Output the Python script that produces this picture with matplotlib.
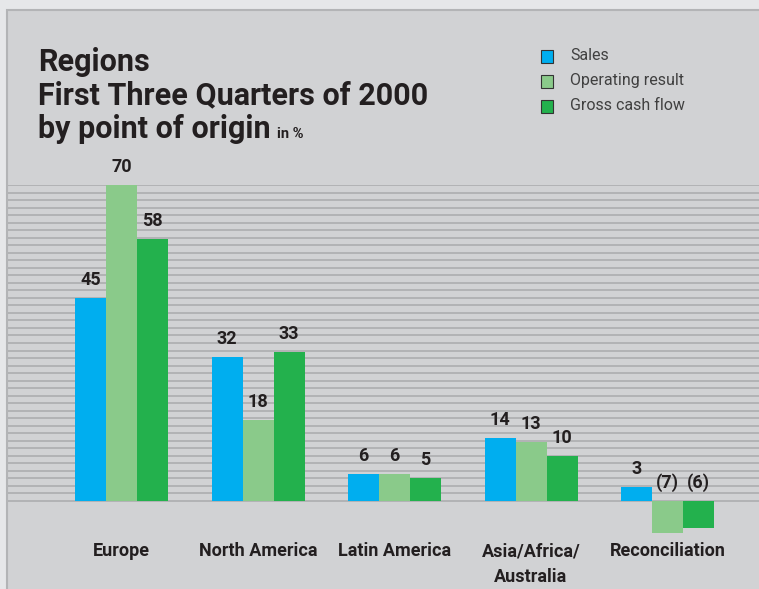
import numpy as np
import matplotlib
matplotlib.use("Agg")
import matplotlib.pyplot as plt
from matplotlib.patches import Rectangle
from matplotlib import font_manager

categories = ["Europe", "North America", "Latin America", "Asia/Africa/\nAustralia", "Reconciliation"]
sales = [45, 32, 6, 14, 3]
operating = [70, 18, 6, 13, -7]
gross_cf = [58, 33, 5, 10, -6]
series_names = ["Sales", "Operating result", "Gross cash flow"]

colors = ["#00aeef", "#8aca8a", "#23b14d"]
names = {f.name for f in font_manager.fontManager.ttflist}
MAIN = "DejaVu Sans"
for cand in ["Roboto", "Liberation Sans"]:
    if cand in names:
        MAIN = cand
        break
FAM = [MAIN, "DejaVu Sans"]

W, H = 759, 589
fig = plt.figure(figsize=(W / 100, H / 100), dpi=100)
fig.patch.set_facecolor("#e6e7e9")

# panel
fig.patches.append(Rectangle((7 / W, -0.01), 1.01 - 7 / W, 1.01 - 10 / H, transform=fig.transFigure,
                             facecolor="#d1d2d4", edgecolor="#b3b4b6", linewidth=1.5, zorder=0))

# axes: pixel y 185 (value 70) .. 545
px_per_unit = (501 - 185) / 70.0
y_bottom_px = 545
ymin = -(y_bottom_px - 501) / px_per_unit
ax = fig.add_axes([8 / W, 1 - y_bottom_px / H, 1 - 8 / W, (y_bottom_px - 185) / H])
ax.set_zorder(2)
ax.set_facecolor("none")
spacing = 136.5
x0 = 121.5
ax.set_xlim((8 - x0) / spacing, (W - x0) / spacing)
ax.set_ylim(ymin, 70)
for s in ax.spines.values():
    s.set_visible(False)
ax.set_xticks([])
ax.set_yticks([])

# stripes
for yv in np.linspace(0, 70, 43):
    ax.axhline(yv, color="#a9aaac", lw=1.1, zorder=1)

x = np.arange(len(categories))
bw = 31 / spacing
for i, (vals, c) in enumerate(zip([sales, operating, gross_cf], colors)):
    xs = x + (i - 1) * bw
    ax.bar(xs, vals, width=bw, color=c, zorder=2, linewidth=0)
    for xi, v in zip(xs, vals):
        lab = str(v) if v >= 0 else f"({-v})"
        ax.annotate(lab, (xi, max(v, 0)), xytext=(0, 6.5), textcoords="offset points",
                    ha="center", va="bottom", fontsize=13, fontweight="bold",
                    color="#231f20", family=FAM, zorder=3)

for xi, cat in zip(x, categories):
    xpix = x0 + xi * spacing
    t = fig.text(xpix / W, 1 - 542 / H, cat, ha="center", va="top", fontsize=13,
                 fontweight="bold", color="#231f20", family=FAM, linespacing=1.6)
    t.set_zorder(5)

# title
tkw = dict(fontsize=22, fontweight="bold", color="#231f20", family=FAM, va="baseline", zorder=5)
fig.text(38 / W, 1 - 71 / H, "Regions", **tkw)
fig.text(38 / W, 1 - 104.5 / H, "First Three Quarters of 2000", **tkw)
t = fig.text(38 / W, 1 - 138 / H, "by point of origin", **tkw)
fig.canvas.draw()
bb = t.get_window_extent()
fig.text((bb.x1 + 6) / W, 1 - 138 / H, "in %", fontsize=10.5, fontweight="bold",
         color="#231f20", family=FAM, va="baseline", zorder=5)

# legend
for k, (name, c) in enumerate(zip(series_names, colors)):
    yc = 56 + k * 25
    fig.patches.append(Rectangle((541 / W, 1 - (yc + 6.5) / H), 12 / W, 13 / H,
                                 transform=fig.transFigure, facecolor=c,
                                 edgecolor="#333333", linewidth=0.8, zorder=5))
    fig.text(570 / W, 1 - yc / H, name, fontsize=11.5, color="#404040", family=FAM,
             va="center", ha="left", zorder=5)

fig.savefig("out.png", dpi=100, facecolor=fig.get_facecolor())
